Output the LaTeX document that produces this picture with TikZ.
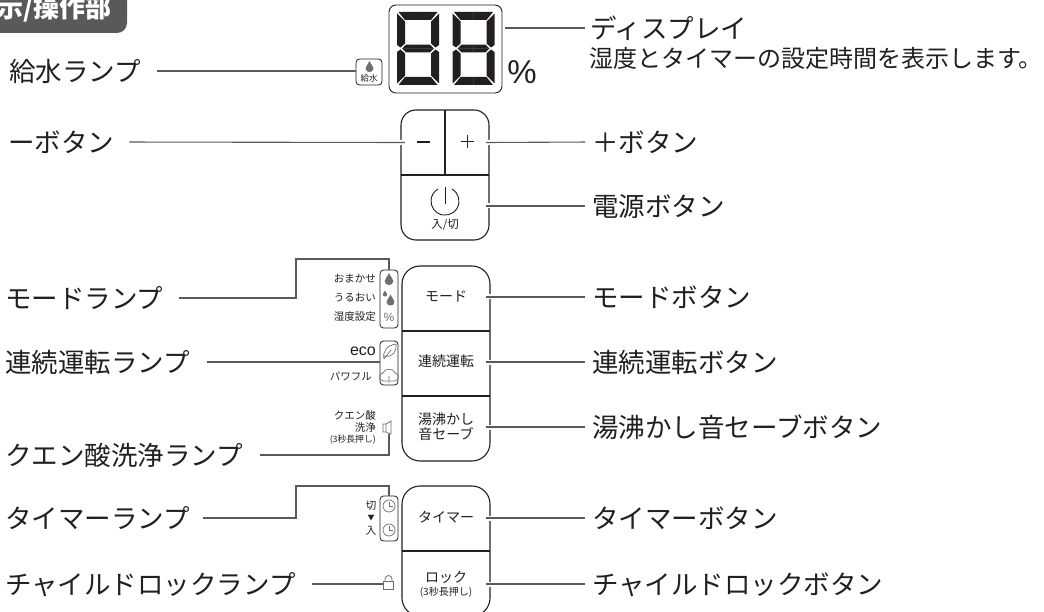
\documentclass[tikz,border=0pt]{standalone}
\usepackage{fontspec}
\setmainfont{Noto Sans CJK JP}
\newfontfamily\latinf{Liberation Sans}
\newcommand{\fs}[1]{\fontsize{#1}{#1}\selectfont}
\definecolor{ink}{HTML}{231F20}
\definecolor{icon}{HTML}{6D6E71}
\definecolor{conn}{HTML}{58595B}
\definecolor{hdrc}{HTML}{58595B}
\tikzset{
  lbl/.style={anchor=west,inner sep=0pt,text=ink,text height=23pt,text depth=2pt,font=\fs{26.5}},
  celltwo/.style={inner sep=0pt,align=center,text=ink,font=\fs{14},minimum width=88pt,minimum height=65pt},
  cell/.style={celltwo,text height=11pt,text depth=2pt},
  small/.style={inner sep=0pt,text=ink,font=\fs{10.5}},
  smallr/.style={small,anchor=east},
  tiny/.style={inner sep=0pt,text=ink,font=\fs{8.8}},
  frame/.style={draw=ink,line width=1.1pt},
  cline/.style={draw=conn,line width=1.1pt},
  iconbox/.style={draw=ink,line width=.8pt,rounded corners=3.5pt,inner sep=0pt},
  halo/.style={cline,preaction={draw=white,line width=5pt}},
}
\newcommand{\dropicon}[3]{% x y size
  \fill[icon] (#1,#2-#3) .. controls (#1+.25*#3,#2-.35*#3) and (#1+.72*#3,#2-.05*#3) .. (#1+.72*#3,#2+.35*#3)
   .. controls (#1+.72*#3,#2+.8*#3) and (#1+.35*#3,#2+#3) .. (#1,#2+#3)
   .. controls (#1-.35*#3,#2+#3) and (#1-.72*#3,#2+.8*#3) .. (#1-.72*#3,#2+.35*#3)
   .. controls (#1-.72*#3,#2-.05*#3) and (#1-.25*#3,#2-.35*#3) .. (#1,#2-#3) -- cycle;}
\newcommand{\clockicon}[2]{%
  \draw[icon,line width=.7pt] (#1,#2) circle (6pt);
  \draw[icon,line width=.7pt] (#1,#2-4) -- (#1,#2) -- (#1+3.5,#2);}
\newcommand{\digit}[1]{%
  \foreach \sx in {1,-1}{\foreach \sy in {1,-1}{
    \begin{scope}[shift={(#1+21,48.5)},xscale=\sx,yscale=\sy]
      \fill[ink] (-.1,-36.5) -- (19.5,-36.5) -- (13,-28.5) -- (-.1,-28.5) -- cycle;
      \fill[ink] (21,-35) -- (13,-27) -- (13,-5) -- (17.5,-1) -- (21,-3.5) -- cycle;
      \fill[ink] (-.1,.1) -- (-.1,-3.8) -- (12,-3.8) -- (16,.1) -- cycle;
    \end{scope}}}}
\begin{document}
\begin{tikzpicture}[x=1pt,y=-1pt]
\clip (0,0) rectangle (1044,612);
\fill[white] (0,0) rectangle (1044,612);
% header
\fill[hdrc,rounded corners=10pt] (-30,-30) rectangle (127,33);
\node[inner sep=0pt,text=white,anchor=east,font=\fs{26}\bfseries] (hdr) at (112,9) {示/操作部};

% display
\node[draw=ink,line width=.9pt,rounded corners=7pt,minimum width=113pt,minimum height=88pt,inner sep=0pt] (disp) at (445.5,49) {};
\digit{397}\digit{452.5}
\node[inner sep=0pt,text=ink,font=\latinf\fs{33}] (pct) at (522,72) {\%};
% water lamp
\node[iconbox,minimum width=26pt,minimum height=26pt] (water) at (369,72) {};
\dropicon{369.5}{66.5}{5.5}
\node[tiny,font=\fs{8.5}] (watert) at (369,78.5) {給水};

% +/- and power
\draw[frame,rounded corners=15pt] (401,110) rectangle (489,240);
\draw[frame] (401,175) -- (489,175);
\draw[frame] (445,110) -- (445,175);
\node[inner sep=0pt,minimum width=44pt,minimum height=65pt] (bminus) at (423,142.5) {};
\node[inner sep=0pt,minimum width=44pt,minimum height=65pt] (bplus) at (467,142.5) {};
\node[inner sep=0pt,minimum width=88pt,minimum height=65pt] (bpower) at (445,206) {};
\draw[ink,line width=1.2pt] (417,142) -- (430,142);
\draw[ink,line width=1pt] (467,135.5) -- (467,148.5) (460.5,142) -- (473.5,142);
\draw[ink,line width=.9pt] (452,189) arc[start angle=-60,end angle=240,radius=14];
\draw[ink,line width=.9pt] (445,187) -- (445,204);
\node[small,font=\fs{11.5}] (powt) at (445,225) {入/切};

% mode block
\draw[frame,rounded corners=18pt] (402,266) rectangle (490,461);
\draw[frame] (402,331) -- (490,331);
\draw[frame] (402,396) -- (490,396);
\node[cell] (bmode) at (446,297) {モード};
\node[cell] (bcont) at (446,362) {連続運転};
\node[celltwo] (bkettle) at (446,427) {湯沸かし\\[1pt]音セーブ};

% mode lamps
\node[iconbox,minimum width=18pt,minimum height=58pt] (modebox) at (389,299) {};
\dropicon{389}{279}{6}
\dropicon{390.5}{300}{5.5}
\dropicon{385}{293.5}{3}
\node[inner sep=0pt,text=icon,font=\latinf\fs{12}] (mpct) at (389,317) {\%};
\node[smallr] (t1) at (376,279) {おまかせ};
\node[smallr] (t2) at (376,298) {うるおい};
\node[smallr] (t3) at (376,317) {湿度設定};

% continuous lamps
\node[iconbox,minimum width=18pt,minimum height=44pt] (contbox) at (389,363) {};
\node[smallr,font=\latinf\fs{16}] (t4) at (376,351) {eco};
\node[smallr] (t5) at (372,376) {パワフル};
\draw[icon,line width=.7pt] (384,359) .. controls (382,351) and (388,345) .. (396,344) .. controls (397,351) and (393,358) .. (384,356) (384,359) -- (391,350);
\draw[icon,line width=.7pt] (388,381) -- (383,381) .. controls (378,380) and (379,373) .. (383,373) .. controls (384,368) and (394,368) .. (395,373) .. controls (399,373) and (400,380) .. (395,381) -- (390,381) (389,383) -- (389,376);

% citric
\node[smallr] (t6) at (376,415) {クエン酸};
\node[smallr] (t7) at (376,428) {洗浄};
\node[tiny,anchor=east] (t8) at (376,440) {(3秒長押し)};
\node[inner sep=0pt,minimum width=8pt,minimum height=12pt] (speaker) at (388,428) {};
\draw[icon,line width=.7pt] (383,424) -- (386,424) -- (391,421) -- (391,434) -- (386,432) -- (383,432) -- cycle (386,424) -- (386,432);

% timer block
\draw[frame,rounded corners=18pt] (402,486) rectangle (490,616);
\draw[frame] (402,551) -- (490,551);
\node[cell] (btimer) at (446,518) {タイマー};
\node[celltwo] (block) at (446,584) {ロック\\[-1pt]{\fs{10}(3秒長押し)}};

% timer lamps
\node[iconbox,minimum width=18pt,minimum height=45pt] (timerbox) at (389,518.5) {};
\clockicon{389}{506}
\clockicon{389}{530}
\node[small,font=\fs{10.5}] (t9) at (371,506) {切};
\node[small,font=\fs{7}] (t10) at (371,518) {▼};
\node[small,font=\fs{10.5}] (t11) at (371,531) {入};

% lock lamp
\node[draw=icon,line width=.8pt,inner sep=0pt,minimum width=10pt,minimum height=8pt] (lock) at (388.5,585) {};
\draw[icon,line width=.8pt] (385,581) -- (385,579) arc[start angle=180,end angle=360,radius=3.5] -- (392,581);

% labels left
\node[lbl] (lwater) at (9,71) {給水ランプ};
\node[lbl] (lminus) at (8,142) {ーボタン};
\node[lbl] (lmode) at (5,298) {モードランプ};
\node[lbl] (lcont) at (5,362) {連続運転ランプ};
\node[lbl] (lcit) at (5,455) {クエン酸洗浄ランプ};
\node[lbl] (ltimer) at (5,518) {タイマーランプ};
\node[lbl] (lchild) at (5,584) {チャイルドロックランプ};
% labels right
\node[lbl] (rdisp) at (590,28) {ディスプレイ};
\node[inner sep=0pt,anchor=west,text=ink,font=\fs{24}] (rdisp2) at (589,58) {湿度とタイマーの設定時間を表示します。};
\node[lbl] (rplus) at (592,142) {＋ボタン};
\node[lbl] (rpower) at (592,206) {電源ボタン};
\node[lbl] (rmode) at (592,297) {モードボタン};
\node[lbl] (rcont) at (592,362) {連続運転ボタン};
\node[lbl] (rkettle) at (592,427) {湯沸かし音セーブボタン};
\node[lbl] (rtimer) at (592,518) {タイマーボタン};
\node[lbl] (rchild) at (592,584) {チャイルドロックボタン};

% connectors left
\draw[cline,shorten <=15.5pt] (lwater.east) -- (water.west |- lwater.east);
\draw[halo,shorten <=15pt] (lminus.east) -- ([xshift=4pt]bminus.west);
\draw[cline,shorten <=15pt] (lmode.east) -- (296,298) -- (296,259) -- (389,259) -- (modebox.north);
\draw[cline,shorten <=16.5pt] (lcont.east) -- (contbox.west |- lcont.east);
\draw[cline,shorten <=16.5pt] (lcit.east) -- (389,455) -- (389,434);
\draw[cline,shorten <=12.5pt] (ltimer.east) -- (296,518) -- (296,486) -- (389,486) -- (timerbox.north);
\draw[cline,shorten <=16.5pt] (lchild.east) -- (lock.west |- lchild.east);
% connectors right
\draw[cline,shorten >=5pt] ([xshift=3pt]disp.east |- rdisp.west) -- (rdisp.west);
\draw[halo,shorten >=7pt] ([xshift=-3pt]bplus.east) -- (rplus.west);
\draw[halo,shorten >=7pt] ([xshift=-3pt]bpower.east) -- (rpower.west);
\draw[halo,shorten >=7pt] ([xshift=-4pt]bmode.east) -- (rmode.west);
\draw[halo,shorten >=7pt] ([xshift=-4pt]bcont.east) -- (rcont.west);
\draw[halo,shorten >=7pt] ([xshift=-4pt]bkettle.east) -- (rkettle.west);
\draw[halo,shorten >=7pt] ([xshift=-4pt]btimer.east) -- (rtimer.west);
\draw[halo,shorten >=7pt] ([xshift=-4pt]block.east) -- (rchild.west);
\end{tikzpicture}
\end{document}
